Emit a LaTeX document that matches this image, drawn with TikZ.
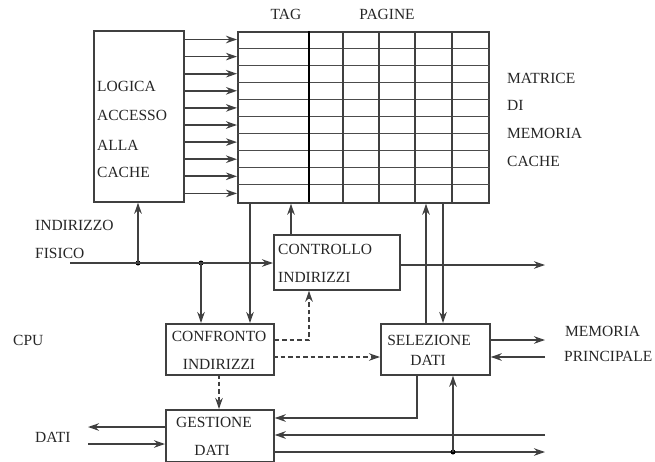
\documentclass[tikz,border=0pt]{standalone}
\usepackage{fontspec}
\setmainfont{Liberation Serif}
\usetikzlibrary{arrows.meta,calc}
\begin{document}
\begin{tikzpicture}[x=1pt,y=-1pt,
  ln/.style={draw=black!75,line width=1.7pt},
  arr/.style={ln,-{Stealth[length=11pt,width=7.5pt,inset=3.5pt]}},
  darr/.style={arr,dashed,dash pattern=on 4.5pt off 3pt},
  box/.style={draw=black!75,line width=1.7pt,fill=white,inner sep=0,anchor=north west},
  lbl/.style={inner sep=0,anchor=west,text=black!85,font=\fontsize{15.5}{16}\selectfont},
  dot/.style={circle,fill=black,inner sep=0,minimum size=5pt}]
\useasboundingbox (0,0) rectangle (655,461);
% boxes
\node[box,minimum width=90pt,minimum height=171pt] (logic) at (93,30) {};
\node[box,minimum width=251pt,minimum height=171pt] (mat) at (237,31) {};
\node[box,minimum width=126pt,minimum height=55pt] (contr) at (273,234) {};
\node[box,minimum width=108pt,minimum height=51pt] (conf) at (165,323) {};
\node[box,minimum width=109pt,minimum height=51pt] (sel) at (380,323) {};
\node[box,minimum width=108pt,minimum height=52pt] (gest) at (165,409) {};
% matrix grid
\foreach \i in {1,...,9} {
  \draw[draw=black!70,line width=1pt] ($(mat.north west)+(0,17.1*\i)$) -- ($(mat.north east)+(0,17.1*\i)$);
}
\foreach \xx in {343,379,415,452} {
  \draw[draw=black!75,line width=1.2pt] (\xx,31) -- (\xx,202);
}
\draw[draw=black,line width=1.7pt] (309,31) -- (309,202);
% arrows logic -> matrix
\foreach \i in {0,...,9} {
  \draw[arr] ($(logic.north east)+(0,9.5+17.1*\i)$) -- ($(mat.north west)+(0,8.5+17.1*\i)$);
}
% labels
\node[lbl,anchor=center] (tag) at (286,14) {TAG};
\node[lbl,anchor=center] (pag) at (387,14) {PAGINE};
\node[lbl] (l1) at (97,86) {LOGICA};
\node[lbl] (l2) at (97,115) {ACCESSO};
\node[lbl] (l3) at (97,145) {ALLA};
\node[lbl] (l4) at (97,172) {CACHE};
\node[lbl] (m1) at (507,78) {MATRICE};
\node[lbl] (m2) at (507,105) {DI};
\node[lbl] (m3) at (507,133) {MEMORIA};
\node[lbl] (m4) at (507,161) {CACHE};
\node[lbl] (if1) at (35,225) {INDIRIZZO};
\node[lbl] (if2) at (35,253) {FISICO};
\node[lbl] (cpu) at (13,340) {CPU};
\node[lbl] (dati) at (35,437) {DATI};
\node[lbl] (mp1) at (565,331) {MEMORIA};
\node[lbl] (mp2) at (564,356) {PRINCIPALE};
\node[lbl] (c1) at (278,249) {CONTROLLO};
\node[lbl] (c2) at (278,277) {INDIRIZZI};
\node[lbl,anchor=center] (f1) at (219,336) {CONFRONTO};
\node[lbl,anchor=center] (f2) at (219,364) {INDIRIZZI};
\node[lbl,anchor=center] (s1) at (429,340) {SELEZIONE};
\node[lbl,anchor=center] (s2) at (428,360) {DATI};
\node[lbl,anchor=center] (g1) at (214,422) {GESTIONE};
\node[lbl,anchor=center] (g2) at (212,450) {DATI};
% address bus
\coordinate (in) at (70,263);
\node[dot] (j1) at (138,263) {};
\node[dot] (j2) at (201,263) {};
\draw[arr] (in) -- (in -| contr.west);
\draw[arr] (j1.center) -- (j1 |- logic.south);
\draw[arr] (j2.center) -- (j2 |- conf.north);
\coordinate (mb1) at (250,202);
\draw[arr] (mb1) -- (mb1 |- conf.north);
\coordinate (ct) at (291,234);
\draw[arr] (ct) -- (ct |- mat.south);
\coordinate (co) at (545,265);
\draw[arr] (co -| contr.east) -- (co);
% dashed
\coordinate (d1) at (309,340);
\draw[darr] (d1 -| conf.east) -- (d1) -- (d1 |- contr.south);
\coordinate (d2) at (273,357);
\draw[darr] (d2) -- (d2 -| sel.west);
\coordinate (d3) at (219,374);
\draw[darr] (d3) -- (d3 |- gest.north);
% selezione <-> matrix
\coordinate (su) at (426,323);
\draw[arr] (su) -- (su |- mat.south);
\coordinate (sd) at (443,202);
\draw[arr] (sd) -- (sd |- sel.north);
% memoria principale
\coordinate (mo) at (545,340);
\draw[arr] (mo -| sel.east) -- (mo);
\coordinate (mi) at (545,357);
\draw[arr] (mi) -- (mi -| sel.east);
% selezione -> gestione
\coordinate (sb) at (417,374);
\coordinate (sg) at (417,418);
\draw[arr] (sb) -- (sg) -- (sg -| gest.east);
\coordinate (r2) at (545,435);
\draw[arr] (r2) -- (r2 -| gest.east);
\coordinate (r3) at (545,452);
\draw[arr] (r3 -| gest.east) -- (r3);
\node[dot] (j3) at (453,452) {};
\draw[arr] (j3.center) -- (j3 |- sel.south);
% dati cpu
\coordinate (dl) at (88,427);
\draw[arr] (dl -| gest.west) -- (dl);
\coordinate (dr) at (88,444);
\draw[arr] (dr) -- (dr -| gest.west);
\end{tikzpicture}
\end{document}
